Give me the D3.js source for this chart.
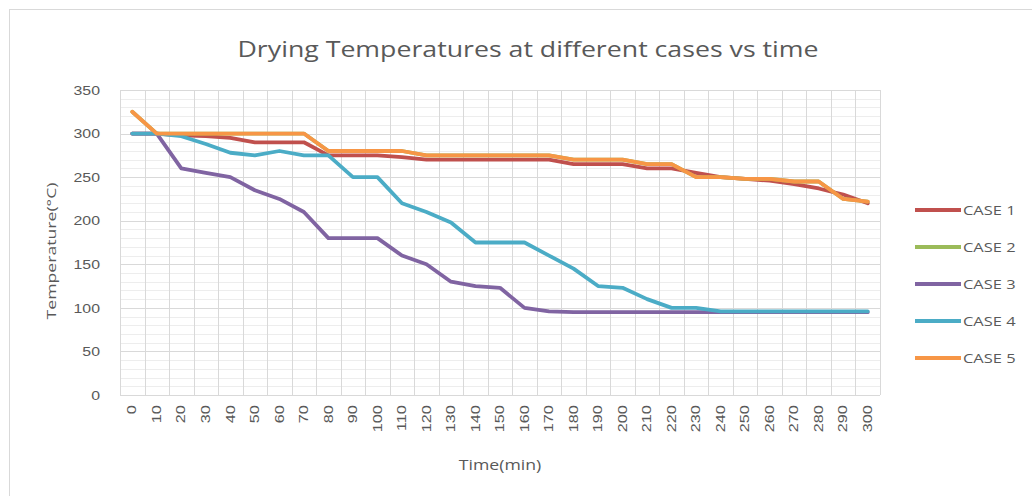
<!DOCTYPE html>
<html><head><meta charset="utf-8">
<script src="https://cdn.jsdelivr.net/npm/d3@7/dist/d3.min.js"></script>
<style>body{margin:0;background:#fff;}svg{display:block;font-family:"Open Sans","Noto Sans",sans-serif;}</style>
</head><body><svg id="c" width="1032" height="496"></svg>
<script>
const categories = [0,10,20,30,40,50,60,70,80,90,100,110,120,130,140,150,160,170,180,190,200,210,220,230,240,250,260,270,280,290,300];
const case1 = [300,300,298,297,295,290,290,290,275,275,275,273,270,270,270,270,270,270,265,265,265,260,260,255,250,248,246,242,237,230,220];
const case2 = [325,300,300,300,300,300,300,300,280,280,280,280,275,275,275,275,275,275,270,270,270,265,265,250,250,248,248,245,245,225,222];
const case3 = [300,300,260,255,250,235,225,210,180,180,180,160,150,130,125,123,100,96,95,95,95,95,95,95,95,95,95,95,95,95,95];
const case4 = [300,300,297,288,278,275,280,275,275,250,250,220,210,198,175,175,175,160,145,125,123,110,100,100,96,96,96,96,96,96,96];
const case5 = [325,300,300,300,300,300,300,300,280,280,280,280,275,275,275,275,275,275,270,270,270,265,265,250,250,248,248,245,245,225,222];
const seriesNames = ["CASE 1","CASE 2","CASE 3","CASE 4","CASE 5"];
const seriesValues = [case1, case2, case3, case4, case5];
const colors = ["#C0504D","#9BBB59","#8064A2","#4BACC6","#F79646"];
const yTicks = [0,50,100,150,200,250,300,350];

const svg = d3.select("#c");
const L = 120, R = 880, T = 90, B = 395;
const SX = 1.22; // glyph stretch along the text direction seen in the reference
svg.append("rect").attr("x",9.5).attr("y",9.5).attr("width",1040).attr("height",500)
  .attr("fill","#fff").attr("stroke","#d9d9d9");

const xb = d3.scaleBand().domain(categories).range([L,R]).paddingInner(0).paddingOuter(0);
const y = d3.scaleLinear().domain([0,350]).range([B,T]);
const xc = d => xb(d) + xb.bandwidth()/2;

// minor grid
const minor = d3.range(0,351,10).filter(v => v%50!==0);
svg.append("g").selectAll("line").data(minor).join("line")
  .attr("x1",L).attr("x2",R).attr("y1",d=>Math.round(y(d))+0.5).attr("y2",d=>Math.round(y(d))+0.5)
  .attr("stroke","#ededed").attr("stroke-width",1);
// vertical grid at category boundaries
const bounds = categories.map(c=>xb(c)).concat([R]);
svg.append("g").selectAll("line").data(bounds).join("line")
  .attr("x1",d=>Math.round(d)+0.5).attr("x2",d=>Math.round(d)+0.5).attr("y1",T).attr("y2",B)
  .attr("stroke","#d9d9d9").attr("stroke-width",1);
// major grid
svg.append("g").selectAll("line").data(yTicks).join("line")
  .attr("x1",L).attr("x2",R).attr("y1",d=>Math.round(y(d))+0.5).attr("y2",d=>Math.round(y(d))+0.5)
  .attr("stroke","#d9d9d9").attr("stroke-width",1);

// y axis labels
const yAxis = d3.axisLeft(y).tickValues(yTicks).tickSize(0).tickPadding(0);
const gy = svg.append("g").attr("transform",`translate(${L-20},0)`).call(yAxis);
gy.select(".domain").remove();
gy.selectAll("text").attr("fill","#595959").style("font-size","13px")
  .attr("x",0).attr("transform",`scale(${SX},1)`);

// x axis labels
const xAxis = d3.axisBottom(xb).tickSize(0).tickPadding(0);
const gx = svg.append("g").attr("transform",`translate(0,${B})`).call(xAxis);
gx.select(".domain").remove();
gx.selectAll("text").attr("fill","#595959").style("font-size","12px")
  .attr("transform",`rotate(-90) scale(1.35,1)`).attr("text-anchor","end").attr("dy","0.35em").attr("x",-7.5).attr("y",0);

// lines
const line = d3.line().x((d,i)=>xc(categories[i])).y(d=>y(d));
seriesValues.forEach((vals,k)=>{
  svg.append("path").datum(vals).attr("d",line).attr("fill","none")
    .attr("stroke",colors[k]).attr("stroke-width",3.8).attr("stroke-linejoin","round").attr("stroke-linecap","round");
});

// title
svg.append("text").attr("x",528).attr("y",57).attr("text-anchor","middle")
  .attr("fill","#595959").style("font-size","21px")
  .attr("textLength",581).attr("lengthAdjust","spacingAndGlyphs")
  .text("Drying Temperatures at different cases vs time");
// axis titles
svg.append("text").attr("transform",`translate(56,251) rotate(-90)`).attr("text-anchor","middle")
  .attr("fill","#595959").style("font-size","13.5px").attr("textLength",137).attr("lengthAdjust","spacingAndGlyphs").text("Temperature(°C)");
svg.append("text").attr("transform",`translate(500,470) scale(${SX},1)`).attr("text-anchor","middle")
  .attr("fill","#595959").style("font-size","14.5px").text("Time(min)");

// legend
const lg = svg.append("g");
seriesNames.forEach((n,k)=>{
  const yy = 210 + k*37;
  lg.append("line").attr("x1",915).attr("x2",961).attr("y1",yy).attr("y2",yy)
    .attr("stroke",colors[k]).attr("stroke-width",3.8);
  lg.append("text").attr("transform",`translate(963,${yy}) scale(${SX},1)`).attr("dy","0.35em").attr("fill","#595959")
    .style("font-size","13.5px").text(n);
});
</script></body></html>
